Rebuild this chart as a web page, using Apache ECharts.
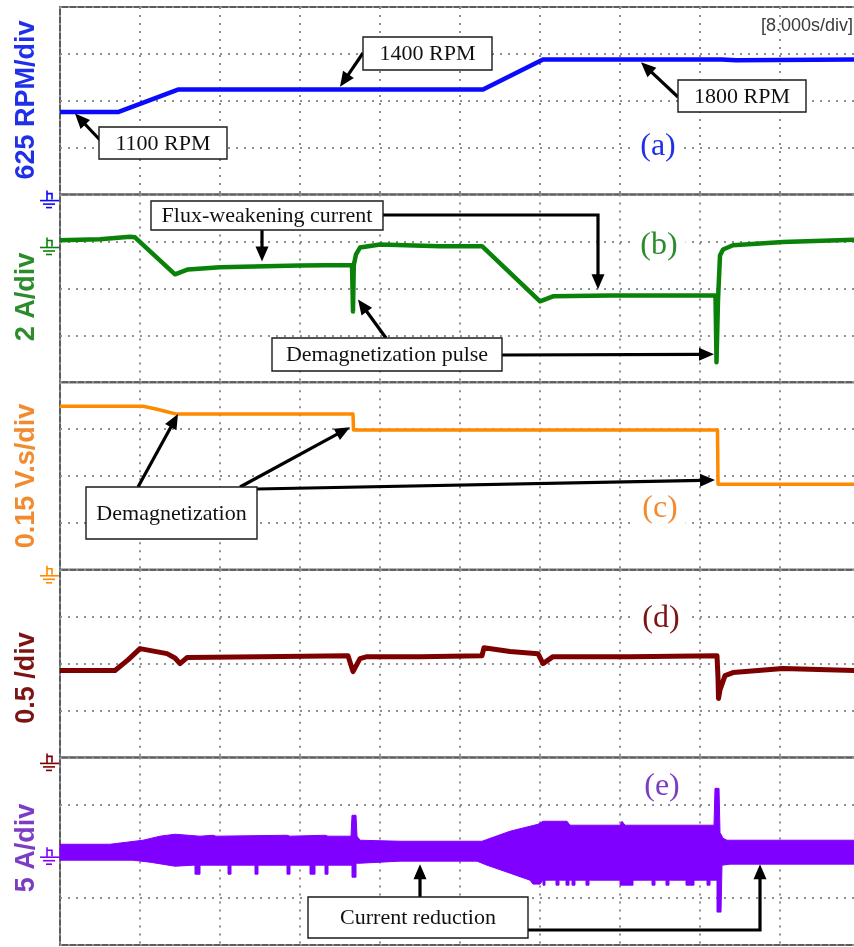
<!DOCTYPE html>
<html>
<head>
<meta charset="utf-8">
<script src="https://cdn.jsdelivr.net/npm/echarts@6/dist/echarts.min.js"></script>
<style>
  html, body { margin: 0; padding: 0; background: #fff; }
  #chart { width: 854px; height: 947px; }
</style>
</head>
<body>
<div id="chart"></div>
<script>
// ---------- time base: 8 s/div, 10 divisions ----------
const timeMin = 0, timeMax = 80, timeStep = 8;

// (a) rotor speed [RPM]
const speedT   = [0, 5.8, 11.8, 42.3, 48.3, 66.2, 66.4, 67.6, 67.8, 80];
const speedRpm = [1100, 1100, 1400, 1400, 1800, 1800, 1790, 1790, 1800, 1800];

// (b) d-axis (flux-weakening) current [A]
const idT = [0, 4.0, 7.0, 7.5, 11.5, 12.8, 16, 24, 29.2, 29.3, 29.38, 29.6, 30.0, 32.0, 38, 42.2,
             48.0, 49.3, 55, 65.55, 65.65, 65.8, 66.0, 66.3, 67.3, 72.3, 80];
const idA = [0.05, 0.1, 0.2, 0.18, -1.4, -1.19, -1.1, -1.02, -1.0, -2.98, -1.0, -0.55, -0.26, -0.13, -0.2, -0.2,
             -2.55, -2.34, -2.3, -2.3, -5.15, -2.5, -0.6, -0.34, -0.16, -0.02, 0.08];

// (c) estimated PM flux linkage [V.s]
const fluxT  = [0, 8.3, 9.5, 11.0, 11.7, 29.3, 29.35, 65.75, 65.8, 80];
const fluxVs = [0.523, 0.523, 0.515, 0.503, 0.498, 0.498, 0.447, 0.447, 0.274, 0.274];

// (d) normalised quantity [-]
const normT = [0, 5.5, 6.8, 8.0, 10.7, 11.5, 12.0, 12.7, 20, 28.8, 29.3, 30.0, 30.7, 36, 42.2, 42.4,
               45, 47.8, 48.3, 49.3, 57, 65.7, 65.8, 65.85, 66.0, 66.5, 67.3, 72.3, 80];
const normV = [0.926, 0.926, 1.04, 1.16, 1.106, 1.06, 1.0, 1.064, 1.074, 1.085, 0.915, 1.053, 1.074, 1.074, 1.085, 1.17,
               1.13, 1.106, 1.0, 1.074, 1.074, 1.085, 0.85, 0.628, 0.72, 0.872, 0.904, 0.947, 0.926];

// (e) phase current envelope [A] (upper / lower edge of the AC band)
const bandHiT = [0, 5.0, 8.3, 10.0, 11.5, 14.0, 15.3, 15.6, 22.7, 23.0, 26.5, 26.8, 29.1, 29.2, 29.6, 29.7,
                 30.0, 34.0, 42.2, 45.0, 47.8, 48.3, 50.7, 51.0, 56.0, 56.2, 56.5, 65.4, 65.5, 65.9, 66.0,
                 66.3, 66.7, 80];
const bandHi  = [0.74, 0.74, 1.17, 1.60, 1.81, 1.60, 1.70, 1.60, 1.70, 1.60, 1.70, 1.60, 1.60, 3.83, 3.83, 1.60,
                 1.17, 1.06, 1.06, 2.13, 2.87, 3.19, 3.19, 2.77, 2.77, 3.19, 2.77, 2.77, 6.70, 6.70, 2.00,
                 1.38, 1.17, 1.17];
const bandLoT = [0, 7.3, 9.0, 11.5, 13.3, 13.5, 13.5, 14.0, 14.0, 16.8, 16.8, 17.1, 17.1, 19.5, 19.5, 19.8, 19.8,
                 22.7, 22.7, 23.0, 23.0, 25.0, 25.0, 25.5, 25.5, 26.5, 26.5, 26.8, 26.8, 29.2, 29.2, 29.6, 29.6,
                 30.0, 34.0, 41.7, 42.7, 45.0, 47.0, 47.3, 48.0, 48.3, 48.3, 48.5, 48.5,
                 49.6, 49.6, 49.9, 49.9, 50.6, 50.6, 50.9, 50.9, 51.2, 51.2, 51.5, 51.5, 52.6, 52.6, 52.9, 52.9,
                 56.0, 56.0, 57.3, 57.3, 59.2, 59.2, 59.5, 59.5, 60.6, 60.6, 60.9, 60.9, 62.6, 62.6, 63.4, 63.4,
                 64.7, 64.7, 65.0, 65.0, 65.7, 65.7, 66.1, 66.2, 67.0, 80];
const bandLo  = [-0.96, -0.96, -1.17, -1.60, -1.49, -1.49, -2.45, -2.45, -1.49, -1.49, -2.45, -2.45, -1.49, -1.49, -2.45, -2.45, -1.49,
                 -1.49, -2.45, -2.45, -1.49, -1.49, -2.45, -2.45, -1.49, -1.49, -2.45, -2.45, -1.49, -1.49, -2.77, -2.77, -1.28,
                 -1.28, -1.06, -1.06, -1.49, -2.34, -3.09, -3.51, -3.51, -3.09, -3.62, -3.62, -3.09,
                 -3.09, -3.62, -3.62, -3.09, -3.09, -3.62, -3.62, -3.09, -3.09, -3.62, -3.62, -3.09, -3.09, -3.62, -3.62, -3.09,
                 -3.09, -3.62, -3.62, -3.09, -3.09, -3.62, -3.62, -3.09, -3.09, -3.62, -3.62, -3.09, -3.09, -3.62, -3.62, -3.09,
                 -3.09, -3.62, -3.62, -3.09, -3.09, -6.49, -6.49, -1.49, -1.38, -1.38];

// ---------- panel setup ----------
const panels = [
  { label: '625 RPM/div',  min: 0,   max: 2500, trace: '#0a0aff', text: '#2030e8', tag: '(a)', labelY: 100 },
  { label: '2 A/div',      min: -6,  max: 2,    trace: '#0a820a', text: '#2c8c2c', tag: '(b)', labelY: 297 },
  { label: '0.15 V.s/div', min: 0,   max: 0.6,  trace: '#ff8a00', text: '#f28a2e', tag: '(c)', labelY: 476 },
  { label: '0.5 /div',     min: 0,   max: 2,    trace: '#7d0000', text: '#7d1414', tag: '(d)', labelY: 678 },
  { label: '5 A/div',      min: -10, max: 10,   trace: '#8000ff', text: '#7c3cc4', tag: '(e)', labelY: 848 }
];
const tagPos = [[658, 147], [659, 246], [660, 509], [661, 619], [662, 787]];

const TOP = 7, PANEL_H = 187.6, LEFT = 60, PLOT_W = 800;
const dotted = { color: '#8f8f8f', width: 2, type: [2, 6] };

const pairs = (t, v) => t.map((x, i) => [x, v[i]]);

const grids = panels.map((p, i) => ({
  left: LEFT, top: TOP + i * PANEL_H, width: PLOT_W, height: PANEL_H,
  outerBoundsMode: 'none', containLabel: false,
  show: true, borderColor: '#5c5c5c', borderWidth: 2
}));
const xAxes = panels.map((p, i) => ({
  type: 'value', gridIndex: i, min: timeMin, max: timeMax, interval: timeStep,
  axisLine: { show: false }, axisTick: { show: false }, axisLabel: { show: false },
  splitLine: { show: true, lineStyle: dotted }
}));
const yAxes = panels.map((p, i) => ({
  type: 'value', gridIndex: i, min: p.min, max: p.max, interval: (p.max - p.min) / 4,
  axisLine: { show: false }, axisTick: { show: false }, axisLabel: { show: false },
  splitLine: { show: true, lineStyle: dotted }
}));

const traceLine = (i, data, width) => ({
  type: 'line', xAxisIndex: i, yAxisIndex: i, data, showSymbol: false, silent: true,
  lineStyle: { color: panels[i].trace, width, join: 'round' }, z: 3
});

// AC phase current drawn as one filled band between its upper and lower edges
const bandSeries = {
  type: 'custom', coordinateSystem: 'cartesian2d', xAxisIndex: 4, yAxisIndex: 4,
  data: [[timeMin, 0]], silent: true, z: 3,
  renderItem: (params, api) => {
    const upper = bandHiT.map((t, i) => api.coord([t, bandHi[i]]));
    const lower = bandLoT.map((t, i) => api.coord([t, bandLo[i]])).reverse();
    return {
      type: 'polygon',
      shape: { points: upper.concat(lower) },
      style: { fill: panels[4].trace, stroke: panels[4].trace, lineWidth: 1 }
    };
  }
};

const series = [
  traceLine(0, pairs(speedT, speedRpm), 4.5),
  traceLine(1, pairs(idT, idA), 4.5),
  traceLine(2, pairs(fluxT, fluxVs), 3.5),
  traceLine(3, pairs(normT, normV), 5),
  bandSeries
];

const chart = echarts.init(document.getElementById('chart'));
chart.setOption({
  animation: false,
  backgroundColor: '#ffffff',
  grid: grids, xAxis: xAxes, yAxis: yAxes, series
});

// ---------- annotations ----------
const callouts = [
  { grid: 0, text: '1100 RPM', box: [99, 127, 128, 32], arrows: [{ path: [[100, 140]], tip: [1.5, 1080] }] },
  { grid: 0, text: '1400 RPM', box: [363, 37, 129, 33], arrows: [{ path: [[363, 53]], tip: [28.0, 1436] }] },
  { grid: 0, text: '1800 RPM', box: [678, 80, 128, 32], arrows: [{ path: [[678, 97]], tip: [58.1, 1765] }] },
  { grid: 1, text: 'Flux-weakening current', box: [151, 201, 232, 29],
    arrows: [{ path: [[262, 230]], tip: [20.2, -0.85] }, { path: [[383, 215], [598, 215]], tip: [53.8, -2.04] }] },
  { grid: 1, text: 'Demagnetization pulse', box: [272, 338, 230, 33],
    arrows: [{ path: [[386, 338]], tip: [29.8, -2.47] }, { path: [[502, 355]], tip: [65.4, -4.81] }] },
  { grid: 2, text: 'Demagnetization', box: [86, 487, 171, 52],
    arrows: [{ path: [[138, 487]], tip: [11.8, 0.498] }, { path: [[240, 487]], tip: [29.0, 0.456] },
             { path: [[257, 489]], tip: [65.5, 0.287] }] },
  { grid: 4, text: 'Current reduction', box: [308, 897, 220, 41],
    arrows: [{ path: [[420, 897]], tip: [36, -1.38] }, { path: [[528, 930], [760, 930]], tip: [70, -1.38] }] }
];

const toPx = (g, t, v) => chart.convertToPixel({ gridIndex: g }, [t, v]);

function arrowShapes(points) {
  const n = points.length;
  const [x1, y1] = points[n - 2], [x2, y2] = points[n - 1];
  const L = Math.hypot(x2 - x1, y2 - y1), ux = (x2 - x1) / L, uy = (y2 - y1) / L;
  const HL = 15, HW = 6.5;
  const bx = x2 - ux * HL, by = y2 - uy * HL;
  const linePts = points.slice(0, n - 1).concat([[bx + ux * 2, by + uy * 2]]);
  return [
    { type: 'polyline', z: 50, silent: true, shape: { points: linePts },
      style: { stroke: '#000', lineWidth: 3.2, fill: null, lineJoin: 'miter' } },
    { type: 'polygon', z: 50, silent: true,
      shape: { points: [[x2, y2], [bx - uy * HW, by + ux * HW], [bx + uy * HW, by - ux * HW]] },
      style: { fill: '#000' } }
  ];
}

const graphic = [];

// channel ground markers at each trace's zero level
panels.forEach((p, i) => {
  const y0 = toPx(i, 0, 0)[1];
  const st = { stroke: p.trace, lineWidth: 1.6 };
  graphic.push({
    type: 'group', x: 0, y: y0, z: 40, silent: true,
    children: [
      { type: 'line', shape: { x1: 47, y1: -4, x2: 47, y2: 6 }, style: st },
      { type: 'polyline', shape: { points: [[47, -1], [52, -1], [52, 5]] }, style: Object.assign({ fill: null }, st) },
      { type: 'line', shape: { x1: 40, y1: 6, x2: 59, y2: 6 }, style: st },
      { type: 'line', shape: { x1: 43, y1: 9.5, x2: 55, y2: 9.5 }, style: st },
      { type: 'line', shape: { x1: 46, y1: 13, x2: 52, y2: 13 }, style: st }
    ]
  });
});

// rotated channel scale labels on the left
panels.forEach(p => {
  graphic.push({
    type: 'text', x: 27, y: p.labelY, rotation: Math.PI / 2, z: 40, silent: true,
    style: { text: p.label, fill: p.text, font: 'bold 27px "Liberation Sans", Arial, sans-serif',
             align: 'center', verticalAlign: 'middle' }
  });
});

// panel tags (a)..(e)
panels.forEach((p, i) => {
  graphic.push({
    type: 'text', x: tagPos[i][0], y: tagPos[i][1], z: 45, silent: true,
    style: { text: p.tag, fill: p.text, font: '32px "Liberation Serif", "Times New Roman", serif',
             align: 'center', verticalAlign: 'middle', backgroundColor: '#fff', padding: [0, 8] }
  });
});

// time base readout
graphic.push({
  type: 'text', x: 853, y: 26, z: 45, silent: true,
  style: { text: '[8.000s/div]', fill: '#3a3a3a', font: '18px "Liberation Sans", Arial, sans-serif',
           align: 'right', verticalAlign: 'middle' }
});

// callout arrows, then boxes on top
callouts.forEach(c => {
  c.arrows.forEach(a => {
    graphic.push(...arrowShapes(a.path.concat([toPx(c.grid, a.tip[0], a.tip[1])])));
  });
});
callouts.forEach(c => {
  const [bx, by, bw, bh] = c.box;
  graphic.push({ type: 'rect', z: 60, silent: true, shape: { x: bx, y: by, width: bw, height: bh },
                 style: { fill: '#fff', stroke: '#1a1a1a', lineWidth: 1.4 } });
  graphic.push({ type: 'text', z: 61, silent: true, x: bx + bw / 2, y: by + bh / 2 + 1,
                 style: { text: c.text, fill: '#111', font: '22px "Liberation Serif", "Times New Roman", serif',
                          align: 'center', verticalAlign: 'middle' } });
});

chart.setOption({ graphic });
</script>
</body>
</html>
